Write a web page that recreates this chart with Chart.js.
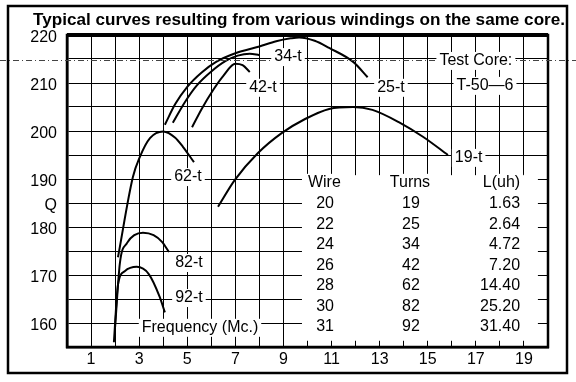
<!DOCTYPE html>
<html>
<head>
<meta charset="utf-8">
<script src="https://cdn.jsdelivr.net/npm/chart.js@4/dist/chart.umd.min.js"></script>
<style>
  body { margin: 0; background: #fff; }
  canvas { display: block; }
</style>
</head>
<body>
<canvas id="grafico-q" width="576" height="382"></canvas>
<script>
// Curvas Q vs frecuencia (Mc.) para cada bobinado
const freq19 = [6.28, 6.98, 7.94, 8.94, 9.9, 10.9, 11.9, 12.7, 13.85, 14.8, 15.84];
const q19    = [184.2, 189.8, 195.4, 199.6, 202.5, 204.6, 205.0, 204.4, 201.7, 198.8, 195.0];

const freq25 = [4.07, 4.5, 5.0, 5.6, 6.2, 7.0, 8.0, 8.7, 9.3, 9.65, 10.3, 10.9, 11.9, 12.5];
const q25    = [201.3, 205.6, 209.2, 212.2, 214.4, 216.2, 217.6, 218.7, 219.3, 219.5, 218.8, 217.3, 214.4, 211.2];

const freq34 = [4.4, 4.9, 5.4, 6.0, 6.6, 7.1, 7.6, 8.0];
const q34    = [201.7, 206.0, 209.5, 212.4, 214.6, 215.7, 216.1, 215.8];

const freq42 = [5.2, 5.6, 6.07, 6.5, 7.0, 7.3, 7.6];
const q42    = [200.8, 204.6, 208.5, 211.5, 214.0, 213.7, 212.3];

const freq62 = [2.12, 2.74, 3.03, 3.45, 4.0, 4.5, 4.82, 5.28];
const q62    = [173.7, 190.4, 194.6, 198.5, 199.9, 198.6, 196.7, 193.5];

const freq82 = [2.0, 2.2, 2.5, 2.8, 3.16, 3.6, 3.95, 4.24];
const q82    = [159.2, 172.5, 176.7, 178.3, 178.8, 178.3, 176.9, 174.8];

const freq92 = [1.95, 2.12, 2.4, 2.9, 3.4, 3.85, 4.07];
const q92    = [156.0, 168.0, 170.8, 171.7, 170.2, 165.5, 162.2];

// Tabla de bobinados
const wireGauge  = ['20', '22', '24', '26', '28', '30', '31'];
const turns      = ['19', '25', '34', '42', '62', '82', '92'];
const inductance = ['1.63', '2.64', '4.72', '7.20', '14.40', '25.20', '31.40'];

// Ejes
const qTicks = [160, 170, 180, 190, 200, 210, 220];
const qLetterTick = 185;
const freqTicks = [1, 3, 5, 7, 9, 11, 13, 15, 17, 19];

const titulo = 'Typical curves resulting from various windings on the same core.';
const FONT = '"Liberation Sans", Arial, sans-serif';

function puntos(xs, ys) {
    return xs.map((x, i) => ({ x: x, y: ys[i] }));
}

function curva(xs, ys) {
    return {
        data: puntos(xs, ys),
        borderColor: '#000',
        borderWidth: 2,
        pointRadius: 0,
        fill: false,
        cubicInterpolationMode: 'monotone'
    };
}

// Etiquetas de texto en coordenadas de datos
const etiquetas = [
    { t: '34-t', x: 9.19, y: 215.4 },
    { t: '25-t', x: 13.47, y: 209.0 },
    { t: '42-t', x: 8.15, y: 209.0 },
    { t: 'Test Core:', x: 17.0, y: 214.6 },
    { t: 'T-50\u20146', x: 17.38, y: 209.4 },
    { t: '62-t', x: 5.03, y: 190.4 },
    { t: '19-t', x: 16.7, y: 194.4 },
    { t: '82-t', x: 5.07, y: 172.5 },
    { t: '92-t', x: 5.07, y: 165.2 },
    { t: 'Frequency (Mc.)', x: 5.53, y: 159.0 }
];

function textoConFondo(ctx, t, px, py, align) {
    const w = ctx.measureText(t).width;
    let x0 = px - w / 2;
    if (align === 'right') x0 = px - w;
    ctx.fillStyle = '#fff';
    ctx.fillRect(x0 - 3, py - 9, w + 6, 18);
    ctx.fillStyle = '#000';
    ctx.textAlign = 'left';
    ctx.fillText(t, x0, py);
}

const papel = {
    id: 'papel',
    beforeDraw(chart) {
        const ctx = chart.ctx;
        ctx.save();
        ctx.fillStyle = '#fff';
        ctx.fillRect(0, 0, chart.width, chart.height);
        // marco exterior
        ctx.strokeStyle = '#000';
        ctx.lineWidth = 2.5;
        ctx.strokeRect(8, 6, 559, 367);
        // titulo
        ctx.font = 'bold 16px ' + FONT;
        const w = ctx.measureText(titulo).width;
        ctx.translate(33, 25);
        ctx.scale(532 / w, 1);
        ctx.fillStyle = '#000';
        ctx.textBaseline = 'alphabetic';
        ctx.fillText(titulo, 0, 0);
        ctx.restore();
    },
    afterDraw(chart) {
        const ctx = chart.ctx;
        const a = chart.chartArea;
        const sx = chart.scales.x;
        const sy = chart.scales.y;
        ctx.save();

        // bloque blanco de la tabla
        const tx0 = sx.getPixelForValue(9.77), tx1 = sx.getPixelForValue(19.58);
        const ty0 = sy.getPixelForValue(190.8), ty1 = sy.getPixelForValue(156.3);
        ctx.fillStyle = '#fff';
        ctx.fillRect(tx0, ty0, tx1 - tx0, ty1 - ty0);

        // borde del area de trazado
        ctx.strokeStyle = '#000';
        ctx.lineWidth = 2.5;
        ctx.strokeRect(a.left, a.top, a.right - a.left, a.bottom - a.top);
        ctx.lineWidth = 4;
        ctx.beginPath();
        ctx.moveTo(a.left, a.top);
        ctx.lineTo(a.right, a.top);
        ctx.stroke();

        // linea del escaneo
        ctx.lineWidth = 1;
        ctx.setLineDash([6, 3, 1, 3]);
        ctx.strokeStyle = '#444';
        ctx.beginPath();
        ctx.moveTo(0, 60.5);
        ctx.lineTo(chart.width, 60.5);
        ctx.stroke();
        ctx.setLineDash([]);

        ctx.font = '16px ' + FONT;
        ctx.textBaseline = 'middle';
        etiquetas.forEach(e => {
            textoConFondo(ctx, e.t, sx.getPixelForValue(e.x), sy.getPixelForValue(e.y), 'center');
        });

        // tabla
        const filasQ = [184.8, 180.5, 176.25, 172.0, 167.7, 163.4, 159.2];
        textoConFondo(ctx, 'Wire', sx.getPixelForValue(10.7), sy.getPixelForValue(189.2), 'center');
        textoConFondo(ctx, 'Turns', sx.getPixelForValue(14.26), sy.getPixelForValue(189.2), 'center');
        textoConFondo(ctx, 'L(uh)', sx.getPixelForValue(18.84), sy.getPixelForValue(189.2), 'right');
        filasQ.forEach((q, i) => {
            const py = sy.getPixelForValue(q);
            textoConFondo(ctx, wireGauge[i], sx.getPixelForValue(10.73), py, 'center');
            textoConFondo(ctx, turns[i], sx.getPixelForValue(14.3), py, 'center');
            textoConFondo(ctx, inductance[i], sx.getPixelForValue(18.84), py, 'right');
        });
        ctx.restore();
    }
};

const ctx = document.getElementById('grafico-q').getContext('2d');
new Chart(ctx, {
    type: 'line',
    data: {
        datasets: [
            curva(freq19, q19),
            curva(freq25, q25),
            curva(freq34, q34),
            curva(freq42, q42),
            curva(freq62, q62),
            curva(freq82, q82),
            curva(freq92, q92)
        ]
    },
    options: {
        responsive: false,
        animation: false,
        layout: { padding: { left: 0, top: 35, right: 28, bottom: 0 } },
        plugins: {
            legend: { display: false },
            tooltip: { enabled: false },
            title: { display: false }
        },
        scales: {
            x: {
                type: 'linear',
                min: 0,
                max: 20,
                afterFit: s => { s.height = 35; },
                grid: { color: '#000', lineWidth: 1, drawTicks: false },
                border: { color: '#000', width: 2.5 },
                ticks: {
                    stepSize: 1,
                    autoSkip: false,
                    maxRotation: 0,
                    padding: 3,
                    color: '#000',
                    font: { family: FONT, size: 16 },
                    callback: v => freqTicks.includes(v) ? String(v) : ''
                }
            },
            y: {
                min: 155,
                max: 220,
                afterFit: s => { s.width = 67; },
                grid: { color: '#000', lineWidth: 1, drawTicks: false },
                border: { color: '#000', width: 2.5 },
                ticks: {
                    stepSize: 5,
                    autoSkip: false,
                    padding: 10,
                    labelOffset: 3,
                    color: '#000',
                    font: { family: FONT, size: 16 },
                    callback: v => v === qLetterTick ? 'Q' : (qTicks.includes(v) ? String(v) : '')
                }
            }
        }
    },
    plugins: [papel]
});
</script>
</body>
</html>
